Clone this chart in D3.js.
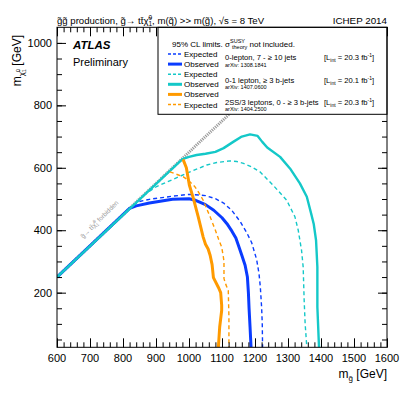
<!DOCTYPE html>
<html>
<head>
<meta charset="utf-8">
<script src="https://cdn.jsdelivr.net/npm/d3@7"></script>
<style>
  body { margin: 0; background: #fff; }
  svg { font-family: "Liberation Sans", Arial, sans-serif; }
</style>
</head>
<body>
<svg id="chart" width="407" height="395"></svg>
<script>
// limit contours, [m_gluino, m_neutralino] in GeV
const exp0L = [[600,250],[830,480],[850,492],[880,499],[950,509],[1000,515],[1050,511],[1080,501],[1105,487],[1130,463],[1155,428],[1175,392],[1190,360],[1205,306],[1212,262],[1216,220],[1220,154],[1222,100],[1223,25]];
const obs0L = [[600,250],[820,470],[840,478],[880,487],[950,499],[1000,501],[1020,496],[1050,482],[1075,464],[1100,440],[1115,421],[1130,397],[1142,375],[1152,345],[1160,320],[1170,288],[1177,250],[1180,200],[1182,150],[1185,90],[1188,25]];
const exp01L = [[600,250],[870,518],[902,540],[952,563],[1003,587],[1054,609],[1084,617],[1124,622],[1145,620],[1165,614],[1190,603],[1215,587],[1255,544],[1296,496],[1321,443],[1331,400],[1341,336],[1346,282],[1349,175],[1352,100],[1357,25]];
const obs01L = [[600,250],[980,628],[1000,635],[1023,641],[1050,645],[1080,651],[1105,663],[1134,683],[1160,700],[1185,707],[1208,702],[1222,683],[1237,665],[1276,635],[1306,598],[1336,550],[1357,507],[1370,454],[1378,420],[1385,368],[1389,282],[1389,154],[1394,25]];
const obsSS = [[982,627],[992,600],[997,570],[1001,545],[1013,503],[1028,443],[1043,378],[1050,355],[1058,340],[1064,320],[1070,290],[1074,248],[1090,215],[1096,200],[1099,160],[1099,143],[1093,90],[1089,25]];
const expSS = [[942,587],[968,577],[983,571],[1000,558],[1018,539],[1030,520],[1043,496],[1064,443],[1080,400],[1090,370],[1099,346],[1104,315],[1106,300],[1106,245],[1112,225],[1119,207],[1121,122],[1121,25]];
const kinLimit = [[600,250],[1400,1050]];

const xTicks = [600,700,800,900,1000,1100,1200,1300,1400,1500,1600];
const yTicks = [200,400,600,800,1000];

const blue = '#0a3cff', cyan = '#14c8c8', orange = '#ff9a00';

const svg = d3.select('#chart');
const x = d3.scaleLinear().domain([600,1600]).range([57,387]);
const y = d3.scaleLinear().domain([25,1050]).range([347.3,27.3]);

svg.append('defs').append('clipPath').attr('id','plot')
  .append('rect').attr('x',57).attr('y',27.3).attr('width',330).attr('height',320);

const line = d3.line().x(d => x(d[0])).y(d => y(d[1])).curve(d3.curveLinear);
const plot = svg.append('g').attr('clip-path','url(#plot)');

// kinematic limit
plot.append('path').attr('d', line(kinLimit))
  .attr('fill','none').attr('stroke','#9a9a9a').attr('stroke-width',3).attr('stroke-dasharray','1.2,1');

const curves = [
  {data: exp0L, color: blue, dashed: true},
  {data: obs0L, color: blue, dashed: false},
  {data: exp01L, color: cyan, dashed: true},
  {data: obs01L, color: cyan, dashed: false},
  {data: expSS, color: orange, dashed: true},
  {data: obsSS, color: orange, dashed: false}
];
curves.forEach((c, i) => {
  plot.append('path').attr('d', line(c.data))
    .attr('fill','none').attr('stroke', c.color)
    .attr('stroke-width', c.dashed ? 1.4 : (i === 3 ? 2.4 : 3))
    .attr('stroke-linejoin','round')
    .attr('stroke-dasharray', c.dashed ? '4,3' : null);
});

// forbidden label
svg.append('text').attr('transform', 'translate(101,221) rotate(-45)')
  .attr('font-size', 6.5).attr('fill', '#999').attr('text-anchor','middle')
  .html('g\u0303\u2192 tt\u0304\u03c7\u0303<tspan font-size="4.5" dy="-3">0</tspan><tspan font-size="4.5" dx="-2.5" dy="4.5">1</tspan><tspan dy="-1.5"> forbidden</tspan>');

// axes
function tickAxis(axis, values, size, transform) {
  const g = svg.append('g').attr('transform', transform)
    .call(axis.tickValues(values).tickSize(size).tickFormat(''));
  g.select('.domain').remove();
  g.selectAll('line').attr('stroke','#000').attr('stroke-width',1);
  return g;
}
const xMinor = d3.range(600,1601,20);
const yMinor = d3.range(50,1050,50);
tickAxis(d3.axisBottom(x), xMinor, -5, 'translate(0,347.3)');
tickAxis(d3.axisBottom(x), xTicks, -9, 'translate(0,347.3)');
tickAxis(d3.axisTop(x), xMinor, -5, 'translate(0,27.3)');
tickAxis(d3.axisTop(x), xTicks, -9, 'translate(0,27.3)');
tickAxis(d3.axisLeft(y), yMinor, -5, 'translate(57,0)');
tickAxis(d3.axisLeft(y), yTicks, -9, 'translate(57,0)');
tickAxis(d3.axisRight(y), yMinor, -5, 'translate(387,0)');
tickAxis(d3.axisRight(y), yTicks, -9, 'translate(387,0)');

svg.append('g').selectAll('text').data(xTicks).join('text')
  .attr('x', d => x(d)).attr('y', 362).attr('text-anchor','middle')
  .attr('font-size', 11).text(d => d);
svg.append('g').selectAll('text').data(yTicks).join('text')
  .attr('x', 52).attr('y', d => y(d) + 4).attr('text-anchor','end')
  .attr('font-size', 11).text(d => d);

// legend box
const leg = svg.append('g');
leg.append('rect').attr('x',158).attr('y',27.3).attr('width',229).attr('height',87)
  .attr('fill','#fff').attr('stroke','#000').attr('stroke-width',1);
leg.append('text').attr('x',172).attr('y',46.5).attr('font-size',8)
  .html('95% CL limits. σ<tspan font-size="5.5" dy="-3.5">SUSY</tspan><tspan font-size="5.5" dx="-13" dy="6">theory</tspan><tspan dy="-2.5"> not included.</tspan>');

const legRows = [
  {label:'Expected', color: blue, dashed: true},
  {label:'Observed', color: blue, dashed: false},
  {label:'Expected', color: cyan, dashed: true},
  {label:'Observed', color: cyan, dashed: false},
  {label:'Observed', color: orange, dashed: false},
  {label:'Expected', color: orange, dashed: true}
];
legRows.forEach((r, i) => {
  const yy = 54 + i * 10.1;
  leg.append('line').attr('x1',168).attr('x2',182).attr('y1',yy).attr('y2',yy)
    .attr('stroke', r.color).attr('stroke-width', r.dashed ? 1.4 : 3)
    .attr('stroke-dasharray', r.dashed ? '3,2' : null);
  leg.append('text').attr('x',184).attr('y',yy + 3).attr('font-size',8).text(r.label);
});

const analyses = [
  {name:'0-lepton, 7 - \u2265 10 jets', arxiv:'arXiv: 1308.1841', lumi:'20.3', y:60},
  {name:'0-1 lepton, \u2265 3 b-jets', arxiv:'arXiv: 1407.0600', lumi:'20.1', y:82.5},
  {name:'2SS/3 leptons, 0 - \u2265 3 b-jets', arxiv:'arXiv: 1404.2500', lumi:'20.3', y:104.5}
];
analyses.forEach(a => {
  leg.append('text').attr('x',225).attr('y',a.y).attr('font-size',7.6).text(a.name);
  leg.append('text').attr('x',225).attr('y',a.y + 6.5).attr('font-size',5.5).text(a.arxiv);
  leg.append('text').attr('x',324).attr('y',a.y).attr('font-size',7.6)
    .html(`[L<tspan font-size="5" dy="2">int</tspan><tspan dy="-2"> = ${a.lumi} fb</tspan><tspan font-size="5" dy="-3">-1</tspan><tspan dy="3">]</tspan>`);
});

// frame
svg.append('rect').attr('x',57).attr('y',27.3).attr('width',330).attr('height',320)
  .attr('fill','none').attr('stroke','#000').attr('stroke-width',1);

// titles
svg.append('text').attr('x',57).attr('y',24).attr('font-size',9.6)
  .html('g\u0303g\u0303 production, g\u0303\u2192 tt\u0304\u03c7\u0303<tspan font-size="6.5" dy="-4">0</tspan><tspan font-size="6.5" dx="-3.6" dy="6">1</tspan><tspan dy="-2">, m(q\u0303) &gt;&gt; m(g\u0303), \u221as = 8 TeV</tspan>');
svg.append('text').attr('x',387).attr('y',24).attr('font-size',9.8)
  .attr('text-anchor','end').text('ICHEP 2014');
svg.append('text').attr('x',73).attr('y',49).attr('font-size',11.5)
  .attr('font-weight','bold').attr('font-style','italic').text('ATLAS');
svg.append('text').attr('x',73).attr('y',65.5).attr('font-size',11).text('Preliminary');

svg.append('text').attr('x',387).attr('y',378).attr('text-anchor','end').attr('font-size',12)
  .html('m<tspan font-size="8" dy="3">g\u0303</tspan><tspan dy="-3"> [GeV]</tspan>');
svg.append('text').attr('transform','translate(21,35) rotate(-90)').attr('text-anchor','end').attr('font-size',12)
  .html('m<tspan font-size="8" dy="3">\u03c7\u0303</tspan><tspan font-size="5.5" dy="2">1</tspan><tspan font-size="5.5" dx="-3" dy="-6">0</tspan><tspan dy="1"> [GeV]</tspan>');
</script>
</body>
</html>
